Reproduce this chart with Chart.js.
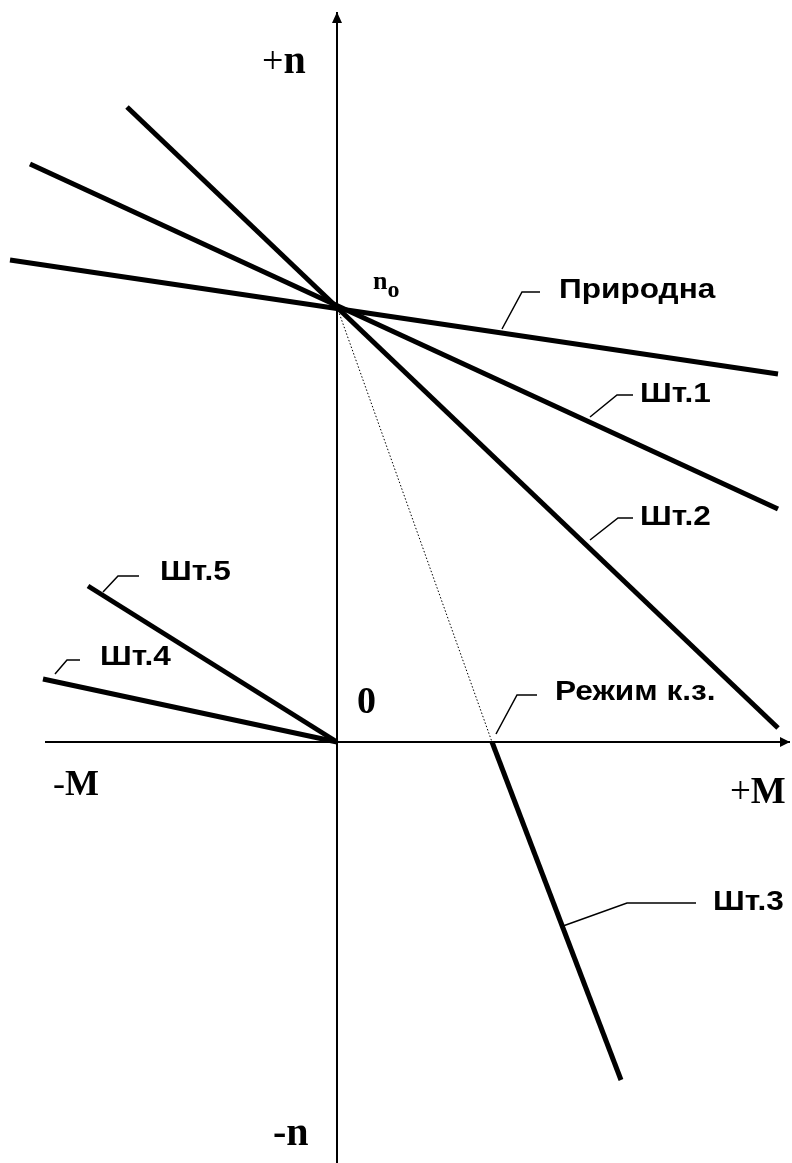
<!DOCTYPE html>
<html>
<head>
<meta charset="utf-8">
<script src="https://cdn.jsdelivr.net/npm/chart.js@4.4.1/dist/chart.umd.min.js"></script>
<style>
  html, body { margin: 0; padding: 0; background: #fff; }
  canvas { display: block; }
</style>
</head>
<body>
<canvas id="chart-characteristics" width="792" height="1163"></canvas>
<script>
// scale range (torque M horizontally, speed n vertically)
const mRange = [-337, 455];
const nRange = [-421, 742];

// axes
const axisM = [-292, 453];
const axisN = [-421, 730];

// characteristic lines: names, torque and speed at both ends
const lineNames = ['Природна', 'Шт.1', 'Шт.2', 'Шт.3', 'Шт.4', 'Шт.5'];
const lineM = [[-327, 441], [-307, 441], [-210, 441], [155, 284], [-294, 0], [-249, 0]];
const lineN = [[482, 368], [578, 233], [635, 14], [0, -338], [63, 0], [156, 0]];

// dotted part to the short-circuit point
const shortM = [0, 155];
const shortN = [435, 0];

// leader lines of the captions
const leaderNames = ['Природна', 'Шт.1', 'Шт.2', 'Шт.3', 'Шт.4', 'Шт.5', 'Режим к.з.'];
const leaderM = [[165, 185, 203], [253, 280, 296], [253, 281, 296], [226, 290, 359], [-282, -270, -257], [-234, -219, -198], [159, 180, 200]];
const leaderN = [[413, 450, 450], [325, 347, 347], [202, 224, 224], [-184, -161, -161], [68, 82, 82], [150, 166, 166], [8, 47, 47]];
// caption anchors (left, middle)
const captionM = [222, 303, 303, 376, -237, -177, 218];
const captionN = [451, 347, 224, -161, 84, 169, 49];

function pts(ms, ns) {
  return ms.map((m, i) => ({ x: m, y: ns[i] }));
}

const datasets = [];
datasets.push({ data: pts(axisM, [0, 0]), borderColor: '#000', borderWidth: 2 });
datasets.push({ data: pts([0, 0], axisN), borderColor: '#000', borderWidth: 2 });
lineNames.forEach((name, i) => {
  datasets.push({ label: name, data: pts(lineM[i], lineN[i]), borderColor: '#000', borderWidth: 5 });
});
datasets.push({ data: pts(shortM, shortN), borderColor: '#000', borderWidth: 1, borderDash: [1.5, 2] });
leaderNames.forEach((name, i) => {
  datasets.push({ data: pts(leaderM[i], leaderN[i]), borderColor: '#000', borderWidth: 1.5 });
});

const decorPlugin = {
  id: 'decor',
  afterDatasetsDraw(chart) {
    const ctx = chart.ctx;
    const xs = chart.scales.x, ys = chart.scales.y;
    const px = v => xs.getPixelForValue(v);
    const py = v => ys.getPixelForValue(v);
    ctx.save();
    ctx.fillStyle = '#000';

    // arrow heads
    const tipX = px(axisM[1]), y0 = py(0);
    ctx.beginPath();
    ctx.moveTo(tipX, y0);
    ctx.lineTo(tipX - 10, y0 - 5);
    ctx.lineTo(tipX - 10, y0 + 5);
    ctx.closePath();
    ctx.fill();
    const tipY = py(axisN[1]), x0 = px(0);
    ctx.beginPath();
    ctx.moveTo(x0, tipY);
    ctx.lineTo(x0 - 5, tipY + 11);
    ctx.lineTo(x0 + 5, tipY + 11);
    ctx.closePath();
    ctx.fill();

    // captions, slightly wide like the original
    ctx.font = 'bold 27px "Liberation Sans", Arial, sans-serif';
    ctx.textBaseline = 'middle';
    ctx.textAlign = 'left';
    leaderNames.forEach((name, i) => {
      ctx.save();
      ctx.translate(px(captionM[i]), py(captionN[i]));
      ctx.scale(1.17, 1);
      ctx.fillText(name, 0, 0);
      ctx.restore();
    });

    // axis labels in serif, mixed weight
    ctx.textBaseline = 'alphabetic';
    function mixed(parts, m, n) {
      let x = px(m);
      const y = py(n);
      parts.forEach(p => {
        ctx.font = p.font;
        ctx.fillText(p.t, x + (p.dx || 0), y + (p.dy || 0));
        x += ctx.measureText(p.t).width + (p.dx || 0);
      });
    }
    const serif = '"Liberation Serif", "Times New Roman", serif';
    mixed([{ t: '+', font: '38px ' + serif }, { t: 'n', font: 'bold 40px ' + serif }], -75, 669);
    mixed([{ t: 'n', font: 'bold 26px ' + serif }, { t: 'o', font: 'bold 24px ' + serif, dy: 8 }], 36, 453);
    mixed([{ t: '0', font: 'bold 38px ' + serif }], 20, 29);
    mixed([{ t: '-', font: '36px ' + serif }, { t: 'M', font: 'bold 36px ' + serif }], -284, -53);
    mixed([{ t: '+', font: '37px ' + serif }, { t: 'M', font: 'bold 37px ' + serif }], 393, -61);
    mixed([{ t: '-n', font: 'bold 40px ' + serif }], -64, -403);
    ctx.restore();
  }
};

new Chart(document.getElementById('chart-characteristics'), {
  type: 'scatter',
  data: { datasets: datasets },
  options: {
    responsive: false,
    animation: false,
    layout: { padding: 0 },
    showLine: true,
    elements: { point: { radius: 0, hoverRadius: 0 }, line: { tension: 0, fill: false } },
    scales: {
      x: { type: 'linear', min: mRange[0], max: mRange[1], display: false },
      y: { type: 'linear', min: nRange[0], max: nRange[1], display: false }
    },
    plugins: { legend: { display: false }, tooltip: { enabled: false } }
  },
  plugins: [decorPlugin]
});
</script>
</body>
</html>
